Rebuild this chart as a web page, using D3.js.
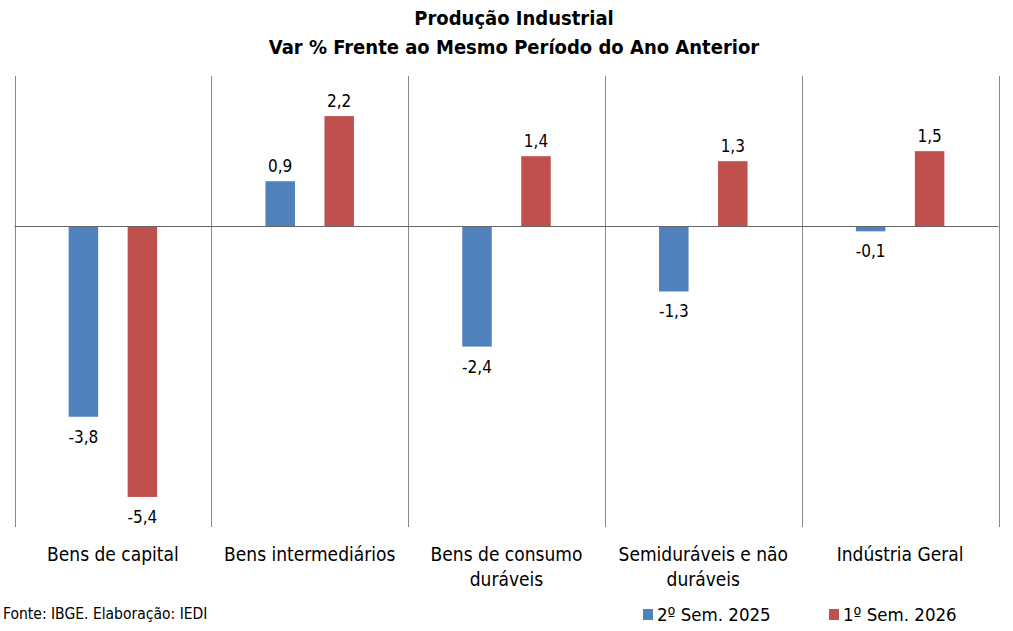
<!DOCTYPE html>
<html>
<head>
<meta charset="utf-8">
<script src="https://cdn.jsdelivr.net/npm/d3@7"></script>
<style>
  body { margin: 0; background: #fff; }
  svg text { font-family: "Liberation Sans Narrow", "DejaVu Sans Condensed", "Liberation Sans", sans-serif; fill: #000; }
</style>
</head>
<body>
<div id="chart"></div>
<script>
// dados
const categories = ["Bens de capital", "Bens intermediários", "Bens de consumo duráveis", "Semiduráveis e não duráveis", "Indústria Geral"];
const catLines = [["Bens de capital"], ["Bens intermediários"], ["Bens de consumo", "duráveis"], ["Semiduráveis e não", "duráveis"], ["Indústria Geral"]];
const seriesNames = ["2º Sem. 2025", "1º Sem. 2026"];
const sem2_2025 = [-3.8, 0.9, -2.4, -1.3, -0.1];
const sem1_2026 = [-5.4, 2.2, 1.4, 1.3, 1.5];
const colors = ["#4f81bd", "#c0504d"];
const yDomain = [-6, 3];

const width = 1013, height = 631;
const plot = { left: 14.5, right: 998.5, top: 76, bottom: 527 };

const svg = d3.select("#chart").append("svg")
    .attr("width", width)
    .attr("height", height);

// titulo
svg.append("text").attr("x", 514).attr("y", 25).attr("text-anchor", "middle")
    .style("font-size", "20px").style("font-weight", "bold").text("Produção Industrial");
svg.append("text").attr("x", 514).attr("y", 54).attr("text-anchor", "middle")
    .style("font-size", "20px").style("font-weight", "bold").text("Var % Frente ao Mesmo Período do Ano Anterior");

const x0 = d3.scaleBand().domain(categories).range([plot.left, plot.right]).paddingInner(0).paddingOuter(0);
const x1 = d3.scaleBand().domain(seriesNames).range([0, x0.bandwidth()]).paddingInner(0.5).paddingOuter(0.918);
const y = d3.scaleLinear().domain(yDomain).range([plot.bottom, plot.top]);

// divisorias verticais
const dividers = categories.map(c => x0(c)).concat([plot.right]);
svg.append("g").selectAll("line").data(dividers).join("line")
    .attr("x1", d => Math.round(d) + 0.5).attr("x2", d => Math.round(d) + 0.5)
    .attr("y1", plot.top).attr("y2", plot.bottom)
    .attr("stroke", "#888").attr("stroke-width", 1);

// barras
const rows = categories.map((c, i) => ({ cat: c, vals: [sem2_2025[i], sem1_2026[i]] }));
const g = svg.append("g");
rows.forEach(r => {
    r.vals.forEach((v, j) => {
        const bx = x0(r.cat) + x1(seriesNames[j]);
        g.append("rect")
            .attr("x", bx).attr("width", x1.bandwidth())
            .attr("y", y(Math.max(0, v)))
            .attr("height", Math.abs(y(v) - y(0)))
            .attr("fill", colors[j]);
        g.append("text")
            .attr("x", bx + x1.bandwidth() / 2)
            .attr("y", v >= 0 ? y(v) - 9 : y(v) + 26)
            .attr("text-anchor", "middle")
            .style("font-size", "17px")
            .text(d3.format(".1f")(v).replace(".", ",").replace("−", "-"));
    });
});

// linha zero
svg.append("line").attr("x1", plot.left).attr("x2", plot.right)
    .attr("y1", Math.round(y(0)) + 0.5).attr("y2", Math.round(y(0)) + 0.5)
    .attr("stroke", "#666").attr("stroke-width", 1.2);

// rotulos categorias
categories.forEach((c, i) => {
    const t = svg.append("text").attr("text-anchor", "middle")
        .attr("x", x0(c) + x0.bandwidth() / 2).attr("y", 561)
        .style("font-size", "19px");
    catLines[i].forEach((ln, k) => {
        t.append("tspan").attr("x", x0(c) + x0.bandwidth() / 2).attr("dy", k === 0 ? 0 : 25).text(ln);
    });
});

// fonte
svg.append("text").attr("x", 3).attr("y", 619).style("font-size", "15.5px").text("Fonte: IBGE. Elaboração: IEDI");

// legenda
const legX = [643, 829];
seriesNames.forEach((s, j) => {
    svg.append("rect").attr("x", legX[j]).attr("y", 609).attr("width", 10).attr("height", 11).attr("fill", colors[j]);
    svg.append("text").attr("x", legX[j] + 14).attr("y", 621).style("font-size", "18.5px").text(s);
});
</script>
</body>
</html>
